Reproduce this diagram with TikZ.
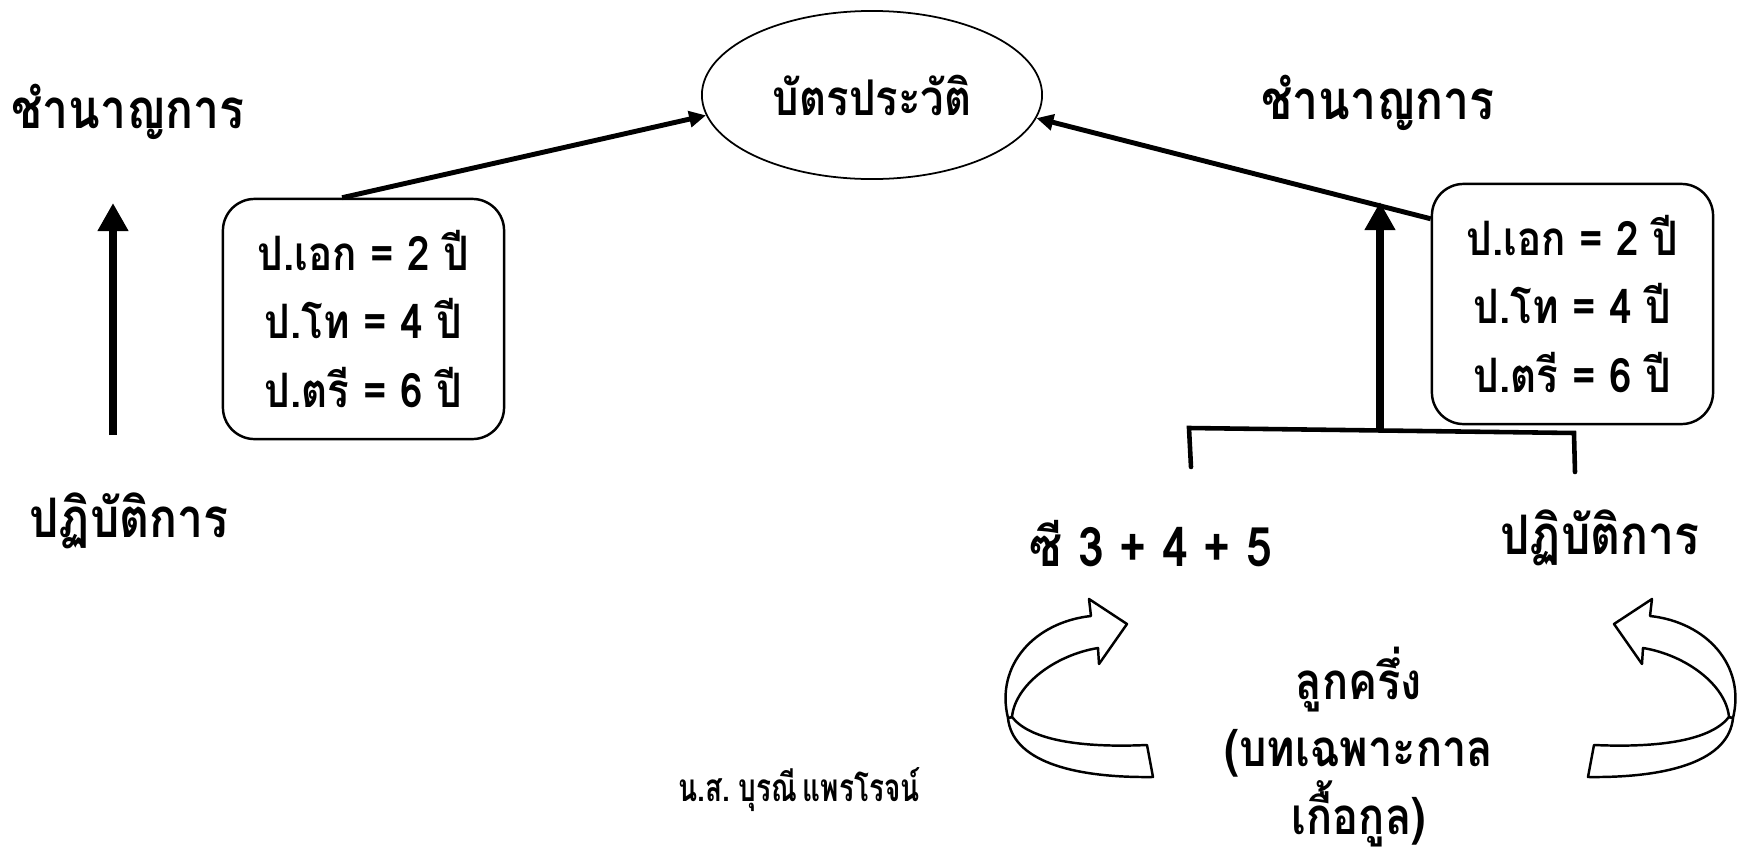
\documentclass[tikz,border=0pt]{standalone}
\usepackage{fontspec}
\newfontfamily\thaifont[Script=Thai, FakeStretch=0.85]{Loma}
\newfontfamily\namefont[Script=Thai, FakeStretch=0.72, WordSpace=0.6]{Loma}
\usetikzlibrary{calc}
\usetikzlibrary{arrows.meta}
\usetikzlibrary{shapes.geometric}

\tikzset{
 thai/.style={font=\thaifont\bfseries\fontsize{15.5}{19}\selectfont, inner sep=0},
 yearbox/.style={draw, line width=0.7pt, rounded corners=9pt, minimum width=2.81cm, minimum height=2.4cm, align=center, font=\thaifont\bfseries\fontsize{13.5}{19.5}\selectfont},
 thin arrow/.style={line width=1.4pt, -{Triangle[length=4.8pt,width=4.5pt]}},
 big arrow/.style={line width=2.3pt, -{Triangle[length=8pt,width=8.3pt]}},
 ribbon/.style={draw, fill=white, line width=0.7pt, line join=round}
}

\begin{document}
\begin{tikzpicture}[x=0.01cm, y=-0.01cm]
\useasboundingbox (0,0) rectangle (1750,848);
\node[ellipse, draw, line width=0.5pt, minimum width=3.4cm, minimum height=1.68cm, thai, font=\thaifont\bfseries\fontsize{14}{17}\selectfont] (card) at (872,95) {บัตรประวัติ};
\node[thai] (exp1) at (128,112) {ชำนาญการ};
\node[thai] (prac1) at (129,521) {ปฏิบัติการ};
\node[thai] (exp2) at (1378,103) {ชำนาญการ};
\node[thai] (cee) at (1151,544) {ซี 3 + 4 + 5};
\node[thai] (prac2) at (1600,538) {ปฏิบัติการ};
\node[thai, align=center, font=\thaifont\bfseries\fontsize{14.5}{19.2}\selectfont] (half) at (1359,747) {ลูกครึ่ง\\(บทเฉพาะกาล\\เกื้อกูล)};
\node[thai, font=\namefont\bfseries\fontsize{11}{14}\selectfont] (author) at (799,790) {น.ส. บุรณี แพรโรจน์};
\node[yearbox] (lbox) at (363.5,319) {ป.เอก = 2 ปี\\ป.โท = 4 ปี\\ป.ตรี = 6 ปี};
\node[yearbox] (rbox) at (1572.5,304) {ป.เอก = 2 ปี\\ป.โท = 4 ปี\\ป.ตรี = 6 ปี};
\draw[thin arrow] (lbox.100) -- (card.187);
\draw[thin arrow] (rbox.149) -- (card.352);
\coordinate (lfoot) at (113,435);
\coordinate (ltop) at (113,203);
\draw[big arrow] (lfoot) -- (ltop);
\coordinate (rfoot) at (1380,431);
\coordinate (rtop) at (1380,202);
\draw[line width=1.3pt, line cap=round] (1191,467) -- (1189,428) -- (1574,433) -- (1575,472);
\draw[big arrow] (rfoot) -- (rtop);
\foreach \s/\f in {0/1, 2741/-1} {
 \begin{scope}[shift={(\s,0)}, xscale=\f]
 \draw[ribbon] (1012,717) .. controls (1030,740) and (1080,748) .. (1147,745) -- (1153,777) .. controls (1070,778) and (1012,760) .. (1008,718) -- cycle;
 \draw[ribbon] (1091,616) -- (1089,599) -- (1127,624) -- (1099,664) -- (1098,648) .. controls (1055,655) and (1015,685) .. (1012,717) -- (1008,718) .. controls (995,665) and (1035,622) .. (1091,616) -- cycle;
 \end{scope}
}
\end{tikzpicture}
\end{document}
